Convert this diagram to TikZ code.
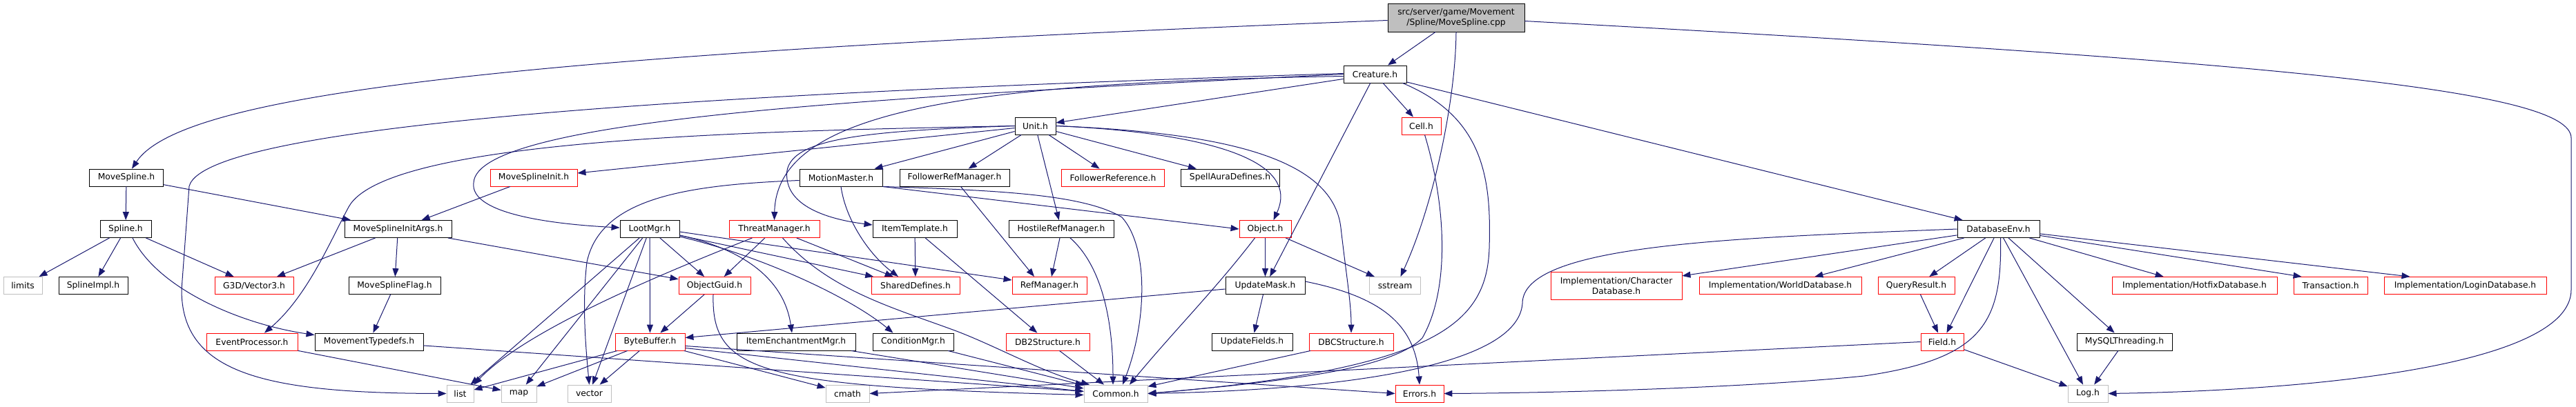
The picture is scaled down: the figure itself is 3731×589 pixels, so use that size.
\documentclass[tikz,border=0pt]{standalone}
\usepackage{fontspec}
\setmainfont{DejaVu Sans}
\usetikzlibrary{arrows.meta}
\definecolor{edgeblue}{RGB}{25,25,112}
\definecolor{sysgray}{RGB}{191,191,191}
\definecolor{undocred}{RGB}{255,0,0}
\tikzset{
  nd/.style={rectangle, inner sep=0pt, minimum height=25pt, line width=0.9pt, fill=white, font=\fontsize{12.3}{15}\selectfont, align=center, text=black},
  doc/.style={nd, draw=black},
  undoc/.style={nd, draw=undocred},
  sys/.style={nd, draw=sysgray},
  rootnode/.style={nd, draw=black, fill=sysgray, minimum height=41pt},
  dep/.style={draw=edgeblue, line width=1pt, -{Triangle[length=12pt,width=9pt]}}
}
\begin{document}
\begin{tikzpicture}[x=1pt,y=-1pt]
\fill[white] (0,0) rectangle (3731,589);
\useasboundingbox (0,0) rectangle (3731,589);
% row 0
\node[rootnode, minimum width=198] (root) at (2109,25.5) {src/server/game/Movement\\/Spline/MoveSpline.cpp};
% row 1
\node[doc, minimum width=91] (creature) at (1991.5,107.5) {Creature.h};
% row 2
\node[doc, minimum width=59] (unit) at (1499.5,182.5) {Unit.h};
\node[undoc, minimum width=57] (cell) at (2058.5,182.5) {Cell.h};
% row 3
\node[doc, minimum width=107] (movespline) at (183,257.5) {MoveSpline.h};
\node[undoc, minimum width=126] (msinit) at (773,257.5) {MoveSplineInit.h};
\node[doc, minimum width=120] (motionmaster) at (1218,257.5) {MotionMaster.h};
\node[doc, minimum width=159] (followerrefmgr) at (1382.5,257.5) {FollowerRefManager.h};
\node[undoc, minimum width=149] (followerref) at (1612,257.5) {FollowerReference.h};
\node[doc, minimum width=143] (spellaura) at (1781.5,257.5) {SpellAuraDefines.h};
% row 4
\node[doc, minimum width=74] (spline) at (182,332) {Spline.h};
\node[doc, minimum width=155] (msiargs) at (576.5,332) {MoveSplineInitArgs.h};
\node[doc, minimum width=86] (lootmgr) at (941,332) {LootMgr.h};
\node[undoc, minimum width=131] (threatmgr) at (1121.5,332) {ThreatManager.h};
\node[doc, minimum width=122] (itemtemplate) at (1325,332) {ItemTemplate.h};
\node[doc, minimum width=152] (hostilerefmgr) at (1537,332) {HostileRefManager.h};
\node[undoc, minimum width=75] (object) at (1832.5,332) {Object.h};
\node[doc, minimum width=119] (databaseenv) at (2894.5,332) {DatabaseEnv.h};
% row 5
\node[sys, minimum width=56] (limits) at (33,414) {limits};
\node[doc, minimum width=100] (splineimpl) at (135,414) {SplineImpl.h};
\node[undoc, minimum width=114] (g3d) at (368,414) {G3D/Vector3.h};
\node[doc, minimum width=133] (msflag) at (571.5,414) {MoveSplineFlag.h};
\node[undoc, minimum width=104] (objectguid) at (1035,414) {ObjectGuid.h};
\node[undoc, minimum width=128] (shareddefines) at (1326,414) {SharedDefines.h};
\node[undoc, minimum width=108] (refmanager) at (1520,414) {RefManager.h};
\node[doc, minimum width=115] (updatemask) at (1832.5,414) {UpdateMask.h};
\node[sys, minimum width=74] (sstream) at (2020.5,414) {sstream};
\node[undoc, minimum width=190, minimum height=40] (chardb) at (2341,414) {Implementation/Character\\Database.h};
\node[undoc, minimum width=235] (worlddb) at (2578.5,414) {Implementation/WorldDatabase.h};
\node[undoc, minimum width=111] (queryresult) at (2775.5,414) {QueryResult.h};
\node[undoc, minimum width=239] (hotfixdb) at (3178.5,414) {Implementation/HotfixDatabase.h};
\node[undoc, minimum width=107] (transaction) at (3375.5,414) {Transaction.h};
\node[undoc, minimum width=235] (logindb) at (3570.5,414) {Implementation/LoginDatabase.h};
% row 6
\node[undoc, minimum width=132] (eventproc) at (365,495.5) {EventProcessor.h};
\node[doc, minimum width=157] (movtypedefs) at (534.5,495.5) {MovementTypedefs.h};
\node[undoc, minimum width=101] (bytebuffer) at (941.5,495.5) {ByteBuffer.h};
\node[doc, minimum width=172] (itemench) at (1153,495.5) {ItemEnchantmentMgr.h};
\node[doc, minimum width=117] (conditionmgr) at (1322.5,495.5) {ConditionMgr.h};
\node[undoc, minimum width=121] (db2structure) at (1517.5,495.5) {DB2Structure.h};
\node[doc, minimum width=117] (updatefields) at (1813.5,495.5) {UpdateFields.h};
\node[undoc, minimum width=122] (dbcstructure) at (1957,495.5) {DBCStructure.h};
\node[undoc, minimum width=62] (field) at (2813,495.5) {Field.h};
\node[doc, minimum width=138] (mysqlthreading) at (3077,495.5) {MySQLThreading.h};
% row 7
\node[sys, minimum width=39] (list) at (666.5,570.5) {list};
\node[sys, minimum width=51] (map) at (751.5,570.5) {map};
\node[sys, minimum width=63] (vector) at (853.5,570.5) {vector};
\node[sys, minimum width=63] (cmath) at (1227.5,570.5) {cmath};
\node[sys, minimum width=92] (common) at (1616,570.5) {Common.h};
\node[undoc, minimum width=70] (errors) at (2056,570.5) {Errors.h};
\node[sys, minimum width=58] (log) at (3024,570.5) {Log.h};

% ---- edges: root
\draw[dep] ([yshift=-4]root.west) .. controls (700,80) and (260,140) .. ([xshift=8]movespline.north);
\draw[dep] (root) -- (creature);
\draw[dep] (root.south) .. controls (2108,150) and (2075,300) .. ([xshift=8]sstream.north);
\draw[dep] ([yshift=-5]root.east) .. controls (3300,90) and (3724,130) .. (3724,200) -- (3724,420) .. controls (3724,530) and (3350,566) .. (log.east);

% ---- Creature
\draw[dep] ([yshift=1]creature.west) .. controls (1200,130) and (300,170) .. (274,270) -- (263,420) .. controls (263,540) and (380,570) .. (list.west);
\draw[dep] (creature.west) .. controls (1300,140) and (690,170) .. (686,265) .. controls (680,310) and (800,325) .. ([yshift=2]lootmgr.west);
\draw[dep] ([yshift=-3]creature.west) .. controls (1400,120) and (1125,160) .. (threatmgr.north);
\draw[dep] (creature) -- (unit);
\draw[dep] (creature) -- (cell);
\draw[dep] (creature) -- (updatemask);
\draw[dep] ([xshift=40]creature.south) .. controls (2150,170) and (2160,260) .. (2157,360) .. controls (2153,470) and (2080,535) .. (common.east);
\draw[dep] (creature) -- (databaseenv);

% ---- Unit
\draw[dep] (unit.west) .. controls (1100,190) and (560,200) .. (505,300) .. controls (478,350) and (445,430) .. ([xshift=18]eventproc.north);
\draw[dep] (unit) -- (msinit);
\draw[dep] (unit.west) .. controls (1250,190) and (1130,200) .. (1140,260) .. controls (1145,300) and (1200,318) .. ([yshift=6]itemtemplate.west);
\draw[dep] (unit) -- (motionmaster);
\draw[dep] (unit) -- (followerrefmgr);
\draw[dep] (unit) -- (followerref);
\draw[dep] (unit) -- (spellaura);
\draw[dep] (unit) -- (hostilerefmgr);
\draw[dep] (unit.east) .. controls (1700,190) and (1890,220) .. ([xshift=12]object.north);
\draw[dep] (unit.east) .. controls (1760,192) and (1930,225) .. (1942,330) .. controls (1950,400) and (1957,440) .. (dbcstructure.north);

% ---- MotionMaster
\draw[dep] ([yshift=-4]motionmaster.west) .. controls (1000,268) and (870,285) .. (850,380) .. controls (843,440) and (848,500) .. (vector.north);
\draw[dep] (motionmaster.south) .. controls (1225,320) and (1260,370) .. ([xshift=-25]shareddefines.north);
\draw[dep] (motionmaster.south east) -- (object.west);
\draw[dep] (motionmaster.south east) .. controls (1450,276) and (1570,282) .. (1625,315) .. controls (1665,360) and (1660,470) .. ([xshift=10]common.north);

% ---- ref managers
\draw[dep] ([xshift=9]followerrefmgr.south) -- ([xshift=-22]refmanager.north);
\draw[dep] ([xshift=-2]hostilerefmgr.south) -- ([xshift=3]refmanager.north);
\draw[dep] ([xshift=13]hostilerefmgr.south) .. controls (1590,380) and (1612,450) .. ([xshift=-4]common.north);

% ---- Object / UpdateMask
\draw[dep] (object) -- (updatemask);
\draw[dep] (object) -- (sstream);
\draw[dep] ([xshift=-15]object.south) .. controls (1760,420) and (1700,480) .. ([xshift=20]common.north);
\draw[dep] (updatemask) -- (updatefields);
\draw[dep] ([yshift=-5]updatemask.west) -- ([yshift=6]bytebuffer.east);
\draw[dep] ([yshift=6]updatemask.east) .. controls (2000,430) and (2050,470) .. (errors.north);

% ---- ItemTemplate / structures
\draw[dep] (itemtemplate) -- (shareddefines);
\draw[dep] (itemtemplate) -- (db2structure);
\draw[dep] (db2structure) -- (common);
\draw[dep] (dbcstructure) -- (common);

% ---- ThreatManager
\draw[dep] (threatmgr) -- (objectguid);
\draw[dep] (threatmgr) -- (shareddefines);
\draw[dep] ([xshift=-32]threatmgr.south) .. controls (950,400) and (760,480) .. (list.north east);
\draw[dep] ([xshift=12]threatmgr.south) .. controls (1200,420) and (1290,445) .. (1380,478) .. controls (1440,500) and (1510,540) .. ([xshift=-38]common.north);

% ---- LootMgr
\draw[dep] (lootmgr) -- (objectguid);
\draw[dep] (lootmgr) -- (bytebuffer);
\draw[dep] (lootmgr) -- (list);
\draw[dep] (lootmgr) -- (map);
\draw[dep] (lootmgr) -- (vector);
\draw[dep] (lootmgr) -- (shareddefines);
\draw[dep] ([yshift=-4]lootmgr.east) -- ([yshift=8]refmanager.west);
\draw[dep] ([yshift=-9]lootmgr.east) .. controls (1070,360) and (1135,400) .. ([xshift=-6]itemench.north);
\draw[dep] ([yshift=-11]lootmgr.east) .. controls (1100,370) and (1230,430) .. ([xshift=-29]conditionmgr.north);

% ---- ObjectGuid / ByteBuffer
\draw[dep] (objectguid) -- (bytebuffer);
\draw[dep] ([xshift=-2]objectguid.south) .. controls (1030,540) and (1100,560) .. ([yshift=-2]common.west);
\draw[dep] (bytebuffer) -- (list);
\draw[dep] (bytebuffer) -- (map);
\draw[dep] (bytebuffer) -- (vector);
\draw[dep] (bytebuffer) -- (cmath);
\draw[dep] ([yshift=-9]bytebuffer.east) -- ([yshift=3]common.west);
\draw[dep] ([yshift=-6]bytebuffer.east) -- (errors.west);
\draw[dep] (itemench) -- (common);
\draw[dep] (conditionmgr) -- (common);

% ---- Movement spline
\draw[dep] (movespline) -- (spline);
\draw[dep] (movespline) -- (msiargs);
\draw[dep] (msinit) -- (msiargs);
\draw[dep] (spline) -- (limits);
\draw[dep] (spline) -- (splineimpl);
\draw[dep] (spline) -- (g3d);
\draw[dep] ([xshift=10]spline.south) .. controls (230,420) and (350,470) .. ([yshift=-3]movtypedefs.north west);
\draw[dep] (msiargs) -- (g3d);
\draw[dep] (msiargs) -- (msflag);
\draw[dep] (msiargs) -- (objectguid);
\draw[dep] (msflag) -- (movtypedefs);
\draw[dep] (movtypedefs) -- (common);
\draw[dep] (eventproc) -- (map);

% ---- Cell
\draw[dep] ([xshift=5]cell.south) .. controls (2095,300) and (2100,420) .. (2060,490) .. controls (2020,530) and (1900,550) .. (common.east);

% ---- DatabaseEnv
\draw[dep] (databaseenv) -- (chardb);
\draw[dep] (databaseenv) -- (worlddb);
\draw[dep] (databaseenv) -- (queryresult);
\draw[dep] (databaseenv) -- (field);
\draw[dep] (databaseenv) -- (hotfixdb);
\draw[dep] (databaseenv) -- ([xshift=12]transaction.north west);
\draw[dep] (databaseenv) -- ([xshift=-80]logindb.north);
\draw[dep] (databaseenv) -- (mysqlthreading);
\draw[dep] (databaseenv) -- (log);
\draw[dep] ([xshift=3]databaseenv.south) .. controls (2900,470) and (2870,520) .. (2700,545) .. controls (2500,565) and (2200,570) .. (errors.east);
\draw[dep] (databaseenv.west) .. controls (2500,345) and (2205,355) .. (2205,440) .. controls (2198,530) and (1950,565) .. (common.east);
\draw[dep] (queryresult) -- (field);
\draw[dep] (field.west) -- (cmath.east);
\draw[dep] (field) -- (log);
\draw[dep] (mysqlthreading) -- (log);
\end{tikzpicture}
\end{document}
